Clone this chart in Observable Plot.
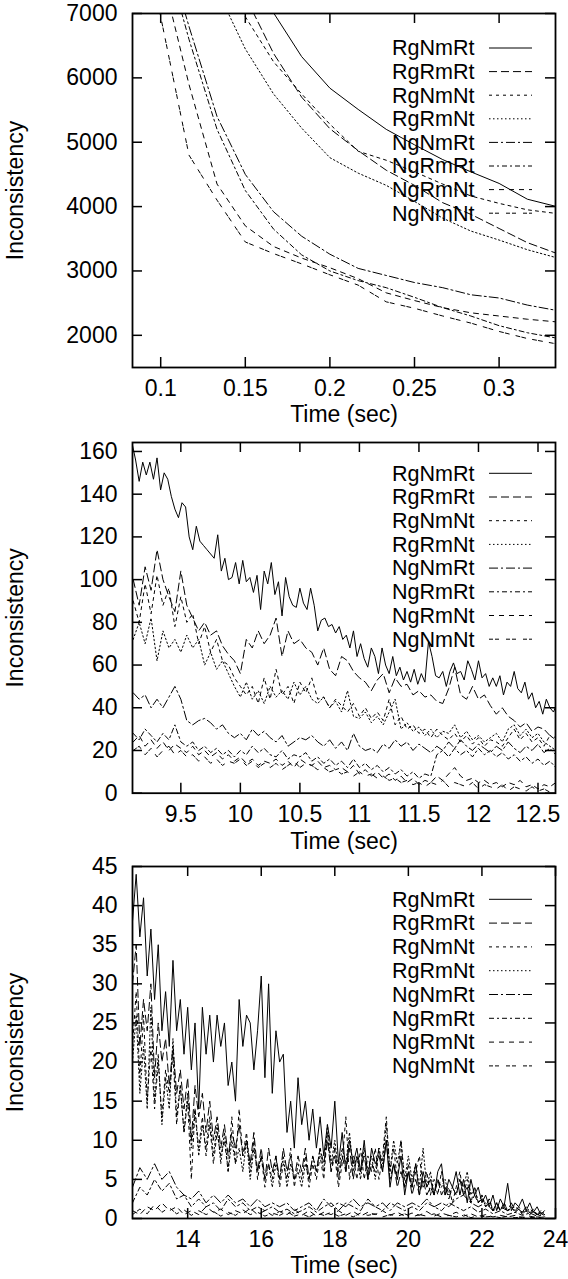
<!DOCTYPE html>
<html><head><meta charset="utf-8">
<script src="https://cdn.jsdelivr.net/npm/d3@7"></script>
<script src="https://cdn.jsdelivr.net/npm/@observablehq/plot@0.6"></script>
<style>
html,body{margin:0;padding:0;background:#fff;}
#chart{width:568px;}
#chart svg{display:block;}
</style></head><body><div id="chart"></div>
<script>
// ---------- shared ----------
const names = ["RgNmRt","RgRmRt","RgNmNt","RgRmNt","NgNmRt","NgRmRt","NgRmNt","NgNmNt"];
const dashes = ["none","8,4","3,4","1.5,2.5","9,3,2,3","5,3,2,3","5,5","4,2,4,7"];
const yLabel = "Inconsistency";
const xLabel = "Time (sec)";

// ---------- panel 1 ----------
const p1Times = [0.0833,0.1,0.1167,0.1333,0.15,0.1667,0.1833,0.2,0.2167,0.2333,0.25,0.2667,0.2833,0.3,0.3167,0.3333];
const p1_RgNmRt = [null,null,null,null,8000,7010,6330,5840,5510,5200,4960,4730,4540,4360,4115,4005];
const p1_RgRmRt = [null,null,null,9000,7265,6380,5700,5210,4870,4565,4330,4060,3880,3660,3440,3280];
const p1_RgNmNt = [null,null,null,7700,6950,6250,5750,5280,4860,4720,4540,4350,4165,4050,3950,3895];
const p1_RgRmNt = [null,null,null,7370,6450,5750,5220,4760,4520,4330,4080,3820,3620,3480,3330,3210];
const p1_NgNmRt = [null,8318,6800,5400,4500,3920,3540,3260,3040,2930,2820,2740,2630,2580,2470,2390];
const p1_NgRmRt = [null,8190,6600,5200,4250,3650,3250,3000,2850,2740,2590,2430,2300,2150,2040,1960];
const p1_NgRmNt = [null,7700,5900,4350,3700,3380,3200,3050,2880,2660,2540,2430,2350,2300,2250,2210];
const p1_NgNmNt = [9200,6950,4800,4100,3450,3270,3110,2940,2780,2520,2420,2300,2190,2060,1950,1870];
const p1XTicks = [0.1,0.15,0.2,0.25,0.3];
const p1YTicks = [2000,3000,4000,5000,6000,7000];

// ---------- panel 2 ----------
const p2TimesFine = [9.09,9.12,9.15,9.18,9.21,9.24,9.27,9.30,9.33,9.36,
 9.39,9.42,9.45,9.48,9.51,9.54,9.57,9.60,9.63,9.66,
 9.69,9.72,9.75,9.78,9.81,9.84,9.87,9.90,9.93,9.96,
 9.99,10.02,10.05,10.08,10.11,10.14,10.17,10.20,10.23,10.26,
 10.29,10.32,10.35,10.38,10.41,10.44,10.47,10.50,10.53,10.56,
 10.59,10.62,10.65,10.68,10.71,10.74,10.77,10.80,10.83,10.86,
 10.89,10.92,10.95,10.98,11.01,11.04,11.07,11.10,11.13,11.16,
 11.19,11.22,11.25,11.28,11.31,11.34,11.37,11.40,11.43,11.46,
 11.49,11.52,11.55,11.58,11.61,11.64,11.67,11.70,11.73,11.76,
 11.79,11.82,11.85,11.88,11.91,11.94,11.97,12.00,12.03,12.06,
 12.09,12.12,12.15,12.18,12.21,12.24,12.27,12.30,12.33,12.36,
 12.39,12.42,12.45,12.48,12.51,12.54,12.57,12.60,12.63,12.66];
const p2_RgNmRt = [164,156,146,155,149,155,147,157,142,150,
 147,139,133,129,136,134,120,114,125,118,
 116,114,112,110,121,104,110,100,101,108,
 98,109,99,101,94,102,86,104,98,108,
 93,99,83,101,92,88,87,96,89,86,
 96,88,76,81,82,78,79,75,78,72,
 74,68,76,64,70,63,59,68,64,56,
 68,60,56,64,55,59,53,57,52,58,
 51,56,52,71,64,55,54,57,50,57,
 61,56,57,53,62,58,53,62,54,56,
 50,54,50,55,46,52,50,57,49,47,
 52,44,47,40,43,37,44,40,38,42];
const p2Times = [9.10,9.15,9.20,9.25,9.30,9.35,9.40,9.45,9.50,9.55,
 9.60,9.65,9.70,9.75,9.80,9.85,9.90,9.95,10.00,10.05,
 10.10,10.15,10.20,10.25,10.30,10.35,10.40,10.45,10.50,10.55,
 10.60,10.65,10.70,10.75,10.80,10.85,10.90,10.95,11.00,11.05,
 11.10,11.15,11.20,11.25,11.30,11.35,11.40,11.45,11.50,11.55,
 11.60,11.65,11.70,11.75,11.80,11.85,11.90,11.95,12.00,12.05,
 12.10,12.15,12.20,12.25,12.30,12.35,12.40,12.45,12.50,12.55,
 12.60,12.65];
const p2_RgRmRt = [100,88,106,95,114,100,92,85,104,88,
 82,76,80,74,76,69,65,62,56,72,
 68,76,70,74,82,64,76,70,72,68,
 66,60,68,58,55,64,62,57,54,52,
 48,53,56,47,54,50,51,46,48,45,
 46,43,42,49,59,46,44,50,44,46,
 41,37,40,36,34,31,33,29,31,30,
 27,26];
const p2_RgNmNt = [90,80,98,84,102,88,96,78,92,80,
 84,70,78,66,72,62,60,54,50,46,
 50,42,54,44,58,46,50,42,52,47,
 54,44,45,40,44,41,38,42,36,40,
 35,38,34,44,32,36,30,32,28,30,
 26,30,27,25,28,24,27,23,26,22,
 25,24,22,26,30,25,28,24,26,22,
 27,25];
const p2_RgRmNt = [72,80,70,82,62,76,68,72,66,74,
 68,72,60,66,58,62,56,50,45,52,
 44,48,42,50,45,48,44,52,46,50,
 44,42,45,40,43,38,48,36,35,38,
 33,36,32,38,44,30,33,29,31,27,
 30,26,29,28,32,26,29,25,27,24,
 26,28,24,30,32,27,30,26,28,24,
 22,20];
const p2_NgNmRt = [47,44,46,40,44,40,45,50,44,34,
 32,34,35,33,30,32,28,26,28,25,
 30,27,29,26,24,27,22,24,26,25,
 27,24,22,25,21,24,20,28,22,20,
 21,19,23,21,25,22,24,20,23,21,
 19,22,20,24,21,25,22,20,23,21,
 19,22,20,24,21,19,22,20,23,19,
 21,18];
const p2_NgRmRt = [28,25,30,27,24,28,25,32,24,22,
 24,20,22,19,21,18,20,17,20,18,
 22,19,21,18,17,20,16,18,17,19,
 15,17,14,16,13,15,12,16,12,14,
 11,13,10,12,9,11,8,10,7,9,
 8,18,20,17,21,18,20,17,21,18,
 20,17,19,16,18,15,17,14,16,13,
 15,12];
const p2_NgRmNt = [24,27,22,25,21,24,20,23,21,19,
 22,18,20,17,19,16,18,15,17,14,
 16,13,15,14,16,13,15,12,16,14,
 13,15,12,13,11,12,10,13,9,11,
 8,10,7,9,6,8,5,7,4,6,
 5,8,6,9,12,8,6,7,5,6,
 4,5,3,5,4,6,3,4,2,4,
 3,5];
const p2_NgNmNt = [20,22,18,21,17,20,22,18,20,17,
 18,15,17,14,16,13,15,14,16,13,
 15,12,14,12,14,11,13,15,12,14,
 13,11,12,10,11,9,10,8,10,8,
 9,7,8,6,7,5,6,4,5,3,
 5,4,6,3,5,4,3,5,2,4,
 3,2,4,1,3,2,1,3,1,2,
 0.5,2];
const p2XTicks = [9.5,10,10.5,11,11.5,12,12.5];
const p2YTicks = [0,20,40,60,80,100,120,140,160];

// ---------- panel 3 ----------
const p3Times = [12.5,12.6,12.7,12.8,12.9,13.0,13.1,13.2,13.3,13.4,
 13.5,13.6,13.7,13.8,13.9,14.0,14.1,14.2,14.3,14.4,
 14.5,14.6,14.7,14.8,14.9,15.0,15.1,15.2,15.3,15.4,
 15.5,15.6,15.7,15.8,15.9,16.0,16.1,16.2,16.3,16.4,
 16.5,16.6,16.7,16.8,16.9,17.0,17.1,17.2,17.3,17.4,
 17.5,17.6,17.7,17.8,17.9,18.0,18.1,18.2,18.3,18.4,
 18.5,18.6,18.7,18.8,18.9,19.0,19.1,19.2,19.3,19.4,
 19.5,19.6,19.7,19.8,19.9,20.0,20.1,20.2,20.3,20.4,
 20.5,20.6,20.7,20.8,20.9,21.0,21.1,21.2,21.3,21.4,
 21.5,21.6,21.7,21.8,21.9,22.0,22.1,22.2,22.3,22.4,
 22.5,22.6,22.7,22.8,22.9,23.0,23.1,23.2,23.3,23.4,
 23.5,23.6,23.7];
const p3_RgNmRt = [38,44,36,41,31,37,28,35,24,29,
 22,33,24,28,21,27,19,25,14,27,
 21,26,20,26,22,25,17,20,15,28,
 22,26,25,19,24,31,18,30,16,24,
 20,21,11,15,9,18,12,15,10,14,
 9,13,8,12,9,15,7,11,6,10,
 7,9,6,10,5,9,7,8,6,10,
 4,7,5,8,3,6,4,7,3,6,
 4,5,3,6,7,3,5,4,6,3,
 5,2,5,3,4,2,3,1.5,3,1,
 2.5,1.5,4.5,1,2,1.5,2.5,1,2,0.8,
 1.5,0.5,1];
const p3_RgRmRt = [30,35,22,28,24,30,18,25,20,23,
 17,22,16,19,14,18,10,17,13,16,
 11,15,10,13,9,12,8,11,9,12,
 8,10,7,11,6,9,5,9,6,8,
 5,9,6,8,5,8,6,9,5,8,
 6,9,7,10,6,9,5,8,6,9,
 5,8,6,8,5,7,6,9,6,10,
 5,7,4,6,4,6,3,5,3,5,
 3,4,3,5,3,4,2.5,4,3,5,
 3,4,2,3,2,2.5,1.5,2,1,2,
 1,1.5,1,2,1,1.5,0.8,1.5,0.7,1.2,
 0.5,1,0.5];
const p3_RgNmNt = [22,29,18,26,15,22,14,20,13,19,
 16,21,12,17,11,15,5,14,9,13,
 8,12,7,11,8,10,6,13,7,14,
 8,11,6,10,5,8,4,7,5,8,
 4,7,5,9,4,7,5,8,4,7,
 5,8,5,11,6,8,4,7,13,5,
 8,5,9,5,8,6,9,5,8,13,
 6,9,5,10,4,7,4,6,8,4,
 6,3,5,3,6,3,4,2,4,6,
 3,5,2,4,2,3,1.5,2.5,1,2,
 1,2,1,1.5,0.8,1.2,0.5,1,0.5,1,
 0.4,0.8,0.3];
const p3_RgRmNt = [20,26,16,22,14,27,15,21,12,18,
 14,23,13,17,11,16,9,14,8,12,
 9,13,8,12,7,11,6,10,7,9,
 6,10,5,9,6,8,5,7,4,7,
 5,8,4,7,5,6,4,7,5,8,
 6,9,6,12,7,10,6,9,7,11,
 6,8,5,9,6,8,5,9,7,12,
 6,10,7,10,5,8,5,7,4,9,
 4,6,3,5,4,5,3,4,3,5,
 4,6,3,4,2,3,1.5,2.5,1,2,
 1,2,1,1.5,0.8,1.2,0.6,1,0.5,0.9,
 0.4,0.7,0.3];
const p3TimesCoarse = [12.5,12.7,12.9,13.1,13.3,13.5,13.7,13.9,14.1,14.3,
 14.5,14.7,14.9,15.1,15.3,15.5,15.7,15.9,16.1,16.3,
 16.5,16.7,16.9,17.1,17.3,17.5,17.7,17.9,18.1,18.3,
 18.5,18.7,18.9,19.1,19.3,19.5,19.7,19.9,20.1,20.3,
 20.5,20.7,20.9,21.1,21.3,21.5,21.7,21.9,22.1,22.3,
 22.5,22.7,22.9,23.1,23.3,23.5,23.7];
const p3_NgNmRt = [4,6.5,5,7,5,6,4,3,2.5,3.5,
 2,3,2,3,2,2.5,1.5,2.5,1.5,2,
 1.5,2,1,1.5,2,1,2.5,1.5,2,1.5,
 2.5,1.5,2,1.5,2,1,2,1.5,2,1.5,
 2.5,1.5,2,1.5,2.5,3,2,1.5,2,1,
 1.5,1,1.5,0.8,1.2,0.5,0.8];
const p3_NgRmRt = [2,4,3,5,3.5,4.5,2.5,3,1.5,2.5,
 1.5,2,1,2.5,1.5,2,1,1.5,1,1.5,
 0.8,1.2,0.6,1,1.5,0.8,1.5,2,1,2,
 1.5,1,2.5,1.5,1,2,1.5,1,1.5,1,
 2,1.5,1,2,1.5,1,1.5,0.8,1.2,0.6,
 1,0.5,0.8,0.4,0.7,0.3,0.5];
const p3_NgRmNt = [1,0.5,1.5,1,2,1,1.5,0.5,1,0.5,
 1.5,0.8,1.2,0.5,1,0.6,1.3,0.5,1,0.4,
 0.9,0.5,1.2,0.4,1,0.3,0.8,0.5,1,0.4,
 0.9,0.3,0.8,0.5,1,0.4,0.8,0.3,0.7,0.4,
 0.9,0.3,0.7,0.4,0.8,0.3,0.6,0.2,0.5,0.2,
 0.4,0.2,0.4,0.1,0.3,0.1,0.2];
const p3_NgNmNt = [0.5,1.2,0.6,1.8,0.8,1.4,0.6,1.1,0.4,1,
 0.5,0.9,0.3,0.8,0.4,1.1,0.5,0.8,0.3,0.7,
 0.4,0.9,0.3,0.6,0.2,0.7,0.4,0.8,0.3,0.6,
 0.2,0.7,0.4,0.6,0.2,0.5,0.3,0.6,0.2,0.5,
 0.3,0.6,0.2,0.4,0.2,0.5,0.1,0.4,0.2,0.3,
 0.1,0.3,0.1,0.2,0.1,0.2,0.1];
const p3XTicks = [14,16,18,20,22,24];
const p3YTicks = [0,5,10,15,20,25,30,35,40,45];

// ---------- drawing ----------
const FONT = "'Liberation Sans', Arial, Helvetica, sans-serif";
const FS = 23;       // axis text
const LFS = 21.5;    // legend text
const SVGNS = "http://www.w3.org/2000/svg";

function zip(times, values) {
  const out = [];
  const n = Math.min(times.length, values.length);
  for (let i = 0; i < n; i++) if (values[i] != null) out.push({t: times[i], v: values[i]});
  return out;
}

function legendSamples(top, gap) {
  return (index, scales, values, dims) => {
    const g = document.createElementNS(SVGNS, "g");
    const xr = dims.width - dims.marginRight;
    names.forEach((n, i) => {
      const l = document.createElementNS(SVGNS, "line");
      const y = dims.marginTop + top + i * gap;
      l.setAttribute("x1", xr - 66); l.setAttribute("x2", xr - 23);
      l.setAttribute("y1", y); l.setAttribute("y2", y);
      l.setAttribute("stroke", "black"); l.setAttribute("stroke-width", 1);
      if (dashes[i] !== "none") l.setAttribute("stroke-dasharray", dashes[i]);
      g.appendChild(l);
    });
    return g;
  };
}

function panel(cfg) {
  const W = 568, mL = 132, mR = 13;
  const fh = cfg.height - cfg.marginTop - cfg.marginBottom;
  const fw = W - mL - mR;
  const marks = [];
  cfg.series.forEach((s, i) => {
    marks.push(Plot.line(zip(s[0], s[1]), {
      x: "t", y: "v", stroke: "black", strokeWidth: 1,
      strokeDasharray: dashes[i] === "none" ? null : dashes[i], clip: true
    }));
  });
  // inward ticks, mirrored
  marks.push(Plot.tickX(cfg.xTicks, {x: d => d, insetTop: fh - 10, stroke: "black", strokeWidth: 1.5}));
  marks.push(Plot.tickX(cfg.xTicks, {x: d => d, insetBottom: fh - 10, stroke: "black", strokeWidth: 1.5}));
  marks.push(Plot.tickY(cfg.yTicks, {y: d => d, insetRight: fw - 10, stroke: "black", strokeWidth: 1.5}));
  marks.push(Plot.tickY(cfg.yTicks, {y: d => d, insetLeft: fw - 10, stroke: "black", strokeWidth: 1.5}));
  marks.push(Plot.frame({stroke: "black", strokeWidth: 1.8}));
  // legend
  names.forEach((n, i) => {
    marks.push(Plot.text([n], {text: d => d, frameAnchor: "top-right", dx: -81,
      dy: cfg.legendTop + i * cfg.legendGap, textAnchor: "end", lineAnchor: "middle",
      fill: "black", fontSize: LFS}));
  });
  marks.push(legendSamples(cfg.legendTop, cfg.legendGap));
  // axis titles
  marks.push(Plot.text([xLabel], {text: d => d, frameAnchor: "bottom", dy: cfg.xTitleDy,
    lineAnchor: "middle", fill: "black", fontSize: FS}));
  marks.push(Plot.text([yLabel], {text: d => d, frameAnchor: "left", dx: -117, rotate: -90,
    lineAnchor: "middle", textAnchor: "middle", fill: "black", fontSize: FS}));
  return Plot.plot({
    width: W, height: cfg.height,
    marginLeft: mL, marginRight: mR, marginTop: cfg.marginTop, marginBottom: cfg.marginBottom,
    style: {fontFamily: FONT, fontSize: FS + "px", color: "black", background: "white", overflow: "visible"},
    x: {domain: cfg.xDomain, ticks: cfg.xTicks, tickSize: 0, tickPadding: 12, tickFormat: d => String(d), label: null},
    y: {domain: cfg.yDomain, ticks: cfg.yTicks, tickSize: 0, tickPadding: 15, tickFormat: d => String(d), label: null},
    marks
  });
}

const root = document.getElementById("chart");
root.appendChild(panel({
  height: 426, marginTop: 13, marginBottom: 59,
  xDomain: [1/12, 1/3], yDomain: [1500, 7000],
  xTicks: p1XTicks, yTicks: p1YTicks,
  legendTop: 35, legendGap: 23.6, xTitleDy: 47,
  series: [[p1Times,p1_RgNmRt],[p1Times,p1_RgRmRt],[p1Times,p1_RgNmNt],[p1Times,p1_RgRmNt],
           [p1Times,p1_NgNmRt],[p1Times,p1_NgRmRt],[p1Times,p1_NgRmNt],[p1Times,p1_NgNmNt]]
}));
root.appendChild(panel({
  height: 426, marginTop: 16, marginBottom: 59.3,
  xDomain: [9.094, 12.647], yDomain: [0, 164.2],
  xTicks: p2XTicks, yTicks: p2YTicks,
  legendTop: 31.3, legendGap: 23.7, xTitleDy: 48,
  series: [[p2TimesFine,p2_RgNmRt],[p2Times,p2_RgRmRt],[p2Times,p2_RgNmNt],[p2Times,p2_RgRmNt],
           [p2Times,p2_NgNmRt],[p2Times,p2_NgRmRt],[p2Times,p2_NgRmNt],[p2Times,p2_NgNmNt]]
}));
root.appendChild(panel({
  height: 427, marginTop: 14, marginBottom: 61,
  xDomain: [12.5, 24], yDomain: [0, 45],
  xTicks: p3XTicks, yTicks: p3YTicks,
  legendTop: 33.3, legendGap: 23.8, xTitleDy: 47,
  series: [[p3Times,p3_RgNmRt],[p3Times,p3_RgRmRt],[p3Times,p3_RgNmNt],[p3Times,p3_RgRmNt],
           [p3TimesCoarse,p3_NgNmRt],[p3TimesCoarse,p3_NgRmRt],[p3TimesCoarse,p3_NgRmNt],[p3TimesCoarse,p3_NgNmNt]]
}));
</script>
</body></html>
